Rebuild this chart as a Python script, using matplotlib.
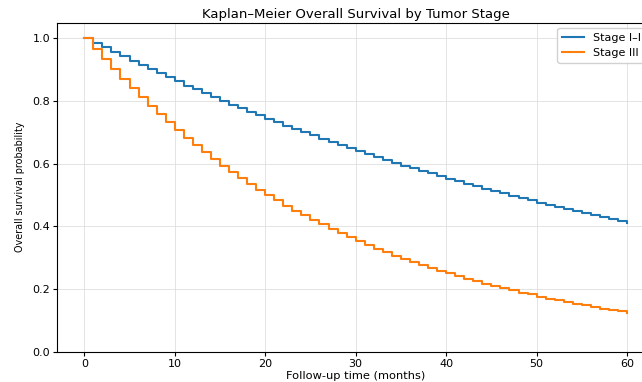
import matplotlib

matplotlib.use("Agg")
import matplotlib.pyplot as plt
from matplotlib import font_manager

# Survival estimates, one value per month (0..60)
months = list(range(61))

stage_i_ii = [
    1.000, 0.985, 0.971, 0.956, 0.942, 0.928, 0.915, 0.901, 0.888, 0.875,
    0.862, 0.849, 0.837, 0.824, 0.812, 0.800, 0.788, 0.777, 0.765, 0.754,
    0.743, 0.732, 0.721, 0.711, 0.700, 0.690, 0.680, 0.670, 0.660, 0.650,
    0.640, 0.631, 0.622, 0.612, 0.603, 0.594, 0.586, 0.577, 0.569, 0.560,
    0.552, 0.544, 0.536, 0.528, 0.520, 0.512, 0.505, 0.497, 0.490, 0.483,
    0.476, 0.469, 0.462, 0.455, 0.448, 0.442, 0.435, 0.429, 0.422, 0.416,
    0.410,
]

stage_iii = [
    1.000, 0.966, 0.933, 0.901, 0.870, 0.841, 0.812, 0.784, 0.758, 0.732,
    0.707, 0.683, 0.659, 0.637, 0.615, 0.594, 0.574, 0.554, 0.536, 0.517,
    0.500, 0.483, 0.466, 0.450, 0.435, 0.420, 0.406, 0.392, 0.379, 0.366,
    0.353, 0.341, 0.329, 0.318, 0.307, 0.297, 0.287, 0.277, 0.268, 0.258,
    0.250, 0.241, 0.233, 0.225, 0.217, 0.210, 0.203, 0.196, 0.189, 0.183,
    0.176, 0.170, 0.165, 0.159, 0.154, 0.148, 0.143, 0.138, 0.134, 0.129,
    0.125,
]

series = [("Stage I\u2013II", stage_i_ii, "tab:blue"), ("Stage III", stage_iii, "tab:orange")]

# the y label in the reference is set in a condensed face
installed = {f.name for f in font_manager.fontManager.ttflist}
if "Liberation Sans Narrow" in installed:
    ylabel_font = {"family": "Liberation Sans Narrow", "fontsize": 9.2}
else:
    ylabel_font = {"family": "DejaVu Sans", "fontsize": 6.9}

fig = plt.figure(figsize=(6.42, 3.82), dpi=100)
# the reference is cropped on the right, so the axes run past the figure edge
ax = fig.add_axes([0.089, 0.079, 0.93, 0.862])

for label, values, color in series:
    ax.step(months, values, where="post", color=color, lw=1.5, label=label)

ax.set_xlim(-3, 63)
ax.set_ylim(0, 1.05)
ax.set_yticks([0.0, 0.2, 0.4, 0.6, 0.8, 1.0])
ax.tick_params(labelsize=8, length=3, pad=2)
ax.grid(True, color="#dddddd", lw=0.7, alpha=0.8)

ax.set_title("Kaplan\u2013Meier Overall Survival by Tumor Stage", fontsize=9.5, pad=3)
ax.set_xlabel("Follow-up time (months)", fontsize=8.2, labelpad=1.5)
ax.set_ylabel("Overall survival probability", labelpad=5, **ylabel_font)
ax.legend(loc="upper right", fontsize=8, framealpha=0.9)

fig.savefig("out.png", dpi=100)
